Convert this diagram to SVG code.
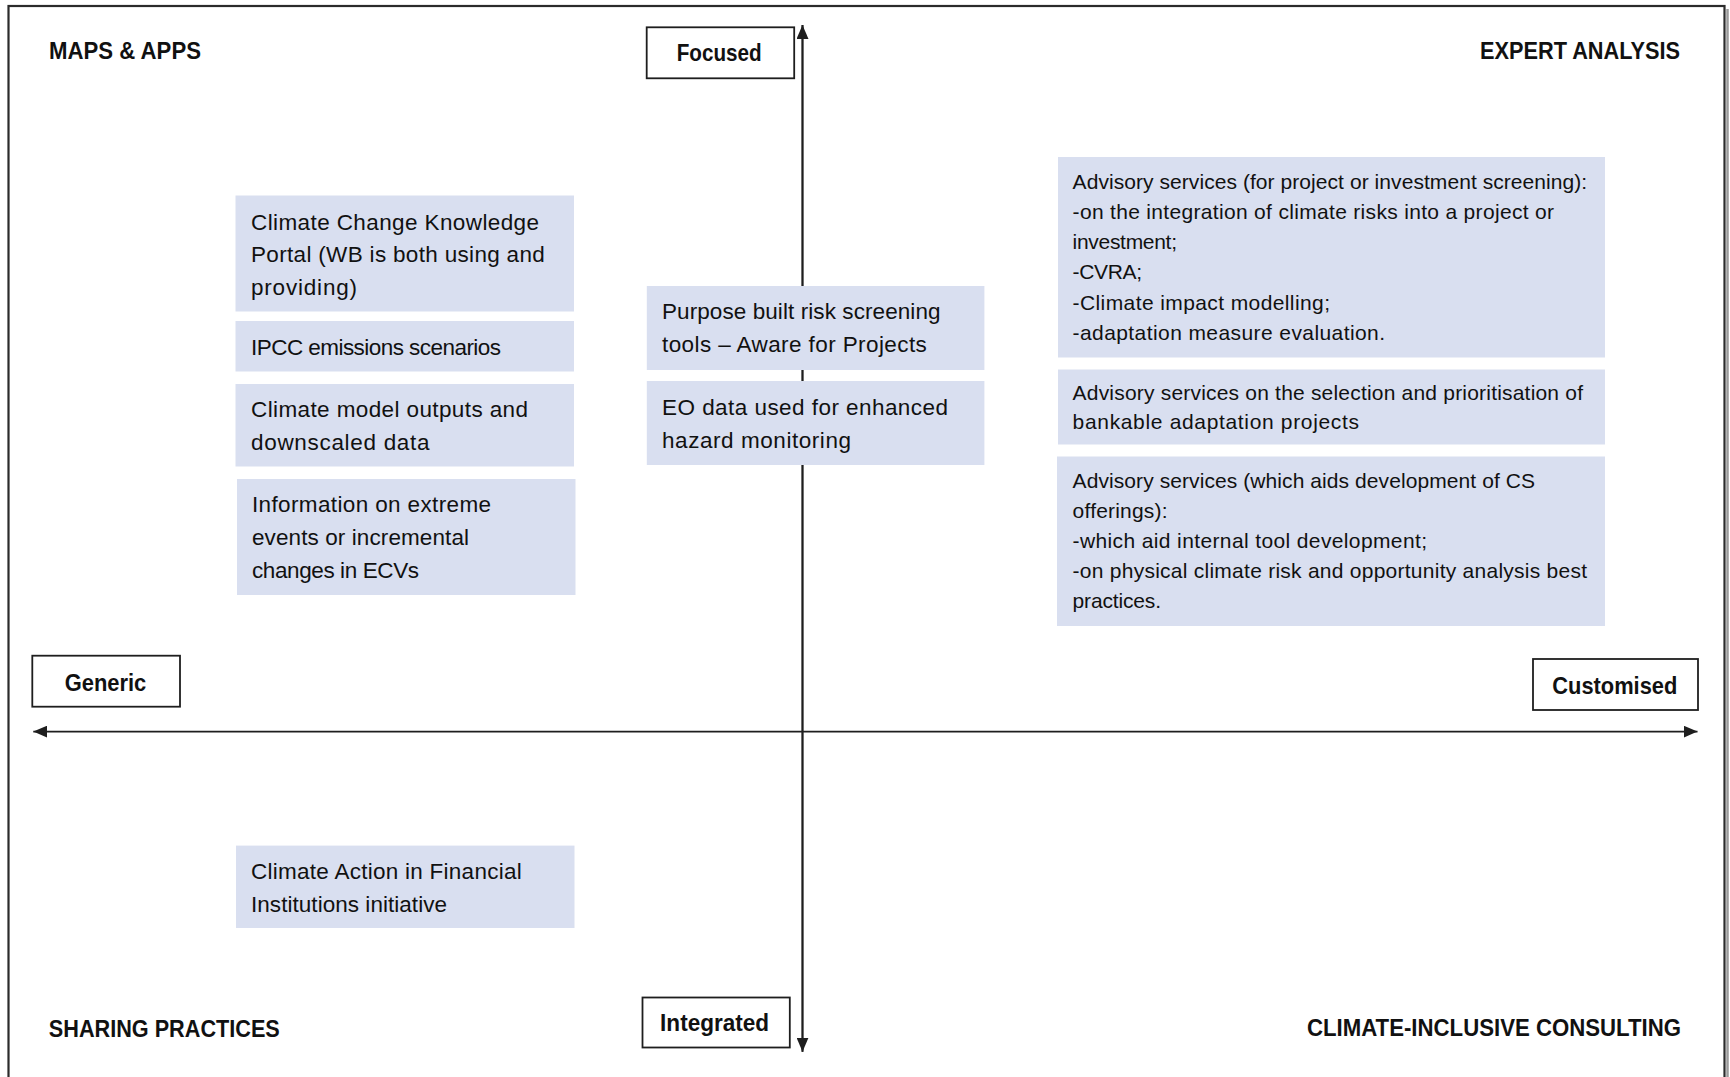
<svg xmlns="http://www.w3.org/2000/svg" width="1730" height="1077" viewBox="0 0 1730 1077">
<style>
.frame{fill:none;stroke:#2b2b2b;stroke-width:2.2}
.shadow{fill:none;stroke:#9a9a9a;stroke-width:2.5}
.card{fill:#d9dff0}
.lbl{fill:#ffffff;stroke:#1e1e1e;stroke-width:1.8}
.axis{stroke:#1e1e1e;stroke-width:1.8;fill:none}
.t{font-family:"Liberation Sans",Arial,sans-serif;fill:#111;font-size:22.5px}
.r{font-family:"Liberation Sans",Arial,sans-serif;fill:#111;font-size:21px}
.h{font-family:"Liberation Sans",Arial,sans-serif;fill:#111;font-size:24px;font-weight:bold}
.c{text-anchor:middle}
</style>
<defs>
<marker id="ah" viewBox="0 0 14 12" refX="14" refY="6" markerWidth="14" markerHeight="12" markerUnits="userSpaceOnUse" orient="auto-start-reverse">
<path d="M0,0 L14,6 L0,12 z" fill="#1e1e1e"/>
</marker>
</defs>
<rect width="1730" height="1077" fill="#ffffff"/>
<line class="shadow" x1="1727.5" y1="9" x2="1727.5" y2="1077"/>
<rect class="frame" x="8.5" y="6" width="1716" height="1100"/>

<g id="connectors">
<line class="axis" x1="802.5" y1="1051.7" x2="802.5" y2="25" marker-end="url(#ah)"/>
<line class="axis" x1="802.5" y1="25" x2="802.5" y2="1051.7" marker-end="url(#ah)"/>
<line class="axis" x1="33.3" y1="731.6" x2="1697.5" y2="731.6" marker-start="url(#ah)" marker-end="url(#ah)"/>
</g>

<g id="quadrant-maps-apps"><text class="h" x="49" y="59.3" textLength="152" lengthAdjust="spacingAndGlyphs">MAPS &amp; APPS</text></g>
<g id="quadrant-expert-analysis"><text class="h" x="1480" y="59.3" textLength="200" lengthAdjust="spacingAndGlyphs">EXPERT ANALYSIS</text></g>
<g id="quadrant-sharing-practices"><text class="h" x="48.8" y="1036.6" textLength="231" lengthAdjust="spacingAndGlyphs">SHARING PRACTICES</text></g>
<g id="quadrant-climate-inclusive"><text class="h" x="1307" y="1035.6" textLength="374" lengthAdjust="spacingAndGlyphs">CLIMATE-INCLUSIVE CONSULTING</text></g>

<g id="label-focused"><rect class="lbl" x="646.7" y="27.3" width="147.5" height="51"/><text class="h" x="676.7" y="60.5" textLength="85" lengthAdjust="spacingAndGlyphs">Focused</text></g>
<g id="label-generic"><rect class="lbl" x="32.3" y="655.7" width="147.7" height="51"/><text class="h" x="64.7" y="690.6" textLength="81.6" lengthAdjust="spacingAndGlyphs">Generic</text></g>
<g id="label-customised"><rect class="lbl" x="1533" y="659" width="165" height="51"/><text class="h" x="1552.3" y="694" textLength="125" lengthAdjust="spacingAndGlyphs">Customised</text></g>
<g id="label-integrated"><rect class="lbl" x="642.5" y="997.5" width="147.3" height="50"/><text class="h" x="660.1" y="1030.6" textLength="109" lengthAdjust="spacingAndGlyphs">Integrated</text></g>

<g id="node-cckp"><rect class="card" x="235.5" y="195.5" width="338.5" height="116"/>
<text class="t" x="251" y="229.5" textLength="288">Climate Change Knowledge</text>
<text class="t" x="251" y="262" textLength="293.8">Portal (WB is both using and</text>
<text class="t" x="251" y="294.5" textLength="106">providing)</text></g>

<g id="node-ipcc"><rect class="card" x="235.5" y="321" width="338.5" height="50.5"/>
<text class="t" x="251" y="355" textLength="250">IPCC emissions scenarios</text></g>

<g id="node-climate-model"><rect class="card" x="235.5" y="384" width="338.5" height="82.5"/>
<text class="t" x="251" y="417" textLength="277">Climate model outputs and</text>
<text class="t" x="251" y="450" textLength="178.5">downscaled data</text></g>

<g id="node-extreme-events"><rect class="card" x="237" y="479" width="338.5" height="116"/>
<text class="t" x="252" y="512" textLength="239">Information on extreme</text>
<text class="t" x="252" y="545" textLength="217">events or incremental</text>
<text class="t" x="252" y="578" textLength="167">changes in ECVs</text></g>

<g id="node-cafi"><rect class="card" x="236" y="845.6" width="338.5" height="82.4"/>
<text class="t" x="251" y="878.5" textLength="270.7">Climate Action in Financial</text>
<text class="t" x="251" y="912" textLength="196">Institutions initiative</text></g>

<g id="node-purpose-built"><rect class="card" x="646.8" y="286" width="337.6" height="84"/>
<text class="t" x="662" y="318.5" textLength="278.5">Purpose built risk screening</text>
<text class="t" x="662" y="352" textLength="264.8">tools – Aware for Projects</text></g>

<g id="node-eo-data"><rect class="card" x="646.8" y="381" width="337.6" height="84"/>
<text class="t" x="662" y="415" textLength="286">EO data used for enhanced</text>
<text class="t" x="662" y="448" textLength="189">hazard monitoring</text></g>

<g id="node-advisory-screening"><rect class="card" x="1058" y="157" width="547" height="200.5"/>
<text class="r" x="1072.6" y="189" textLength="514.6">Advisory services (for project or investment screening):</text>
<text class="r" x="1072.6" y="218.5" textLength="481.4">-on the integration of climate risks into a project or</text>
<text class="r" x="1072.6" y="248.5" textLength="104.4">investment;</text>
<text class="r" x="1072.6" y="279" textLength="69.4">-CVRA;</text>
<text class="r" x="1072.6" y="309.5" textLength="257.4">-Climate impact modelling;</text>
<text class="r" x="1072.6" y="340" textLength="312.4">-adaptation measure evaluation.</text></g>

<g id="node-advisory-selection"><rect class="card" x="1058" y="369.5" width="547" height="75"/>
<text class="r" x="1072.6" y="400" textLength="510.4">Advisory services on the selection and prioritisation of</text>
<text class="r" x="1072.6" y="429" textLength="286.4">bankable adaptation projects</text></g>

<g id="node-advisory-cs"><rect class="card" x="1057" y="456.5" width="548" height="169.5"/>
<text class="r" x="1072.6" y="487.5" textLength="462.4">Advisory services (which aids development of CS</text>
<text class="r" x="1072.6" y="517.5" textLength="95">offerings):</text>
<text class="r" x="1072.6" y="547.5" textLength="354.4">-which aid internal tool development;</text>
<text class="r" x="1072.6" y="577.5" textLength="514.4">-on physical climate risk and opportunity analysis best</text>
<text class="r" x="1072.6" y="607.5" textLength="88.4">practices.</text></g>
</svg>
